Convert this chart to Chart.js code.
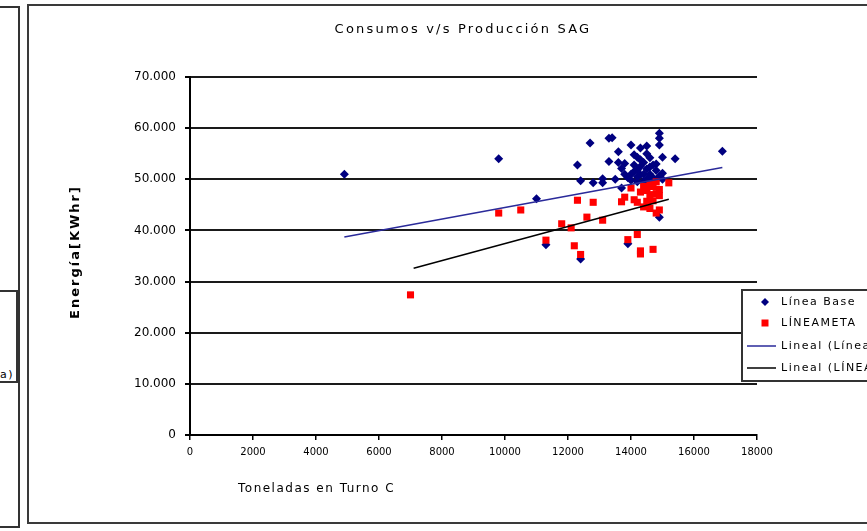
<!DOCTYPE html>
<html>
<head>
<meta charset="utf-8">
<script src="https://cdn.jsdelivr.net/npm/chart.js@4.4.1/dist/chart.umd.min.js"></script>
<style>
  body { margin: 0; width: 867px; height: 531px; overflow: hidden; position: relative; background: #fff; font-family: "DejaVu Sans", sans-serif; }
  #leftPanel { position: absolute; left: -20px; top: 6px; width: 36px; height: 518px; border: 2px solid #333; }
  #leftLegend { position: absolute; left: -60px; top: 290px; width: 76px; height: 89px; border-top: 2px solid #333; border-bottom: 2px solid #333; border-right: 2px solid #333; background: #fff; }
  #leftLegend span { position: absolute; right: 2px; top: 77px; font-size: 11px; letter-spacing: 1.5px; white-space: nowrap; line-height: 11px; }
  #frame { position: absolute; left: 27px; top: 4px; width: 900px; height: 516px; border: 2px solid #3a3a3a; }
  #chart { position: absolute; left: 0; top: 0; }
</style>
</head>
<body>
<div id="leftPanel"></div>
<div id="leftLegend"><span>(Meta)</span></div>
<div id="frame"></div>
<canvas id="chart" width="867" height="531"></canvas>
<script>
// ----- DATA -----
const chartTitle = "Consumos v/s Producción SAG";
const xTitle = "Toneladas en Turno C";
const yTitle = "Energía[KWhr]";

// Línea Base: toneladas / energía
const baseTon = [4900, 9800, 11000, 12300, 12400, 12700, 12800, 13100, 13100, 13300, 13400, 13300,
  13600, 13600, 13800, 13700, 13700, 13900, 14000, 14100, 14300, 14500, 14600, 14900, 14900, 14900,
  15000, 15400, 16900, 14100, 14200, 14300, 14400, 14400, 14500, 14500, 14600, 14700, 14700, 14800,
  14800, 14900, 14200, 14000, 14600, 14300, 14800, 15000, 15000, 14100, 13800, 14400, 14200, 14500,
  13500, 14000, 11300, 12400, 13900, 14900, 14300, 14600, 14700, 14200];
const baseEnergy = [51000, 54000, 46200, 52800, 49700, 57100, 49300, 50100, 49300, 58000, 58100, 53500,
  55400, 53300, 53100, 52100, 48300, 50300, 56700, 54800, 56100, 56500, 54200, 59000, 58000, 56700,
  54300, 54000, 55500, 51500, 50500, 52500, 51000, 53300, 50000, 52000, 51000, 52800, 50300, 51700,
  49800, 50600, 49500, 49800, 49300, 53800, 53000, 51200, 50000, 52800, 51000, 49600, 54300, 55000,
  50000, 51000, 37200, 34400, 37400, 42600, 50900, 52400, 49400, 51800];

// LÍNEAMETA
const metaTon = [7000, 9800, 10500, 11300, 11800, 12100, 12200, 12300, 12400, 12600, 12800, 13100,
  13700, 13800, 13900, 14000, 14200, 14300, 14300, 14200, 14400, 14500, 14600, 14700, 14700, 14800,
  14900, 14500, 14600, 14800, 14900, 15200, 14400, 14100, 14700, 14300, 14600, 14800, 14500, 14900];
const metaEnergy = [27400, 43400, 44000, 38100, 41300, 40500, 37000, 45900, 35300, 42600, 45500, 42000,
  45600, 46500, 38200, 48300, 39200, 35400, 47500, 45500, 48600, 48400, 47000, 36300, 48600, 49500,
  48000, 45700, 44300, 43400, 44000, 49300, 44600, 46000, 45800, 36000, 49000, 47200, 47800, 46800];

// Linear trend lines (end points as drawn)
const trendBaseTon = [4900, 16900];
const trendBaseEnergy = [38700, 52300];
const trendMetaTon = [7100, 15200];
const trendMetaEnergy = [32600, 46100];

// axis ranges
const xMax = 18000, xStep = 2000;
const yMax = 70000, yStep = 10000;

// ----- HELPERS -----
function toPoints(xs, ys) {
  return xs.map((x, i) => ({ x: x, y: ys[i] }));
}

function thousands(v) {
  return String(v).replace(/\B(?=(\d{3})+(?!\d))/g, ".");
}

// Title, axis titles and the clipped legend box, drawn on the canvas
const decorPlugin = {
  id: "decor",
  afterDraw(chart) {
    const ctx = chart.ctx;
    ctx.save();
    ctx.fillStyle = "#000";

    // chart title
    ctx.font = '13px "DejaVu Sans"';
    ctx.letterSpacing = "2.2px";
    ctx.textAlign = "center";
    ctx.textBaseline = "middle";
    ctx.fillText(chartTitle, 463, 30);

    // x axis title
    ctx.font = '12px "DejaVu Sans"';
    ctx.letterSpacing = "1.5px";
    ctx.textAlign = "left";
    ctx.fillText(xTitle, 238, 489);

    // y axis title
    ctx.save();
    ctx.translate(76, 252);
    ctx.rotate(-Math.PI / 2);
    ctx.font = 'bold 13px "DejaVu Sans"';
    ctx.letterSpacing = "2px";
    ctx.textAlign = "center";
    ctx.fillText(yTitle, 0, 0);
    ctx.restore();

    // legend
    const lx = 742, ly = 290, lh = 91;
    ctx.fillStyle = "#fff";
    ctx.fillRect(lx, ly, 200, lh);
    ctx.strokeStyle = "#333";
    ctx.lineWidth = 2;
    ctx.strokeRect(lx, ly, 200, lh);

    const rows = [302, 323, 346, 368];
    ctx.font = '11px "DejaVu Sans"';
    ctx.letterSpacing = "1.5px";
    ctx.textAlign = "left";
    chart.data.datasets.forEach((ds, i) => {
      const y = rows[i];
      if (ds.showLine) {
        ctx.strokeStyle = ds.borderColor;
        ctx.lineWidth = ds.borderWidth;
        ctx.beginPath();
        ctx.moveTo(747, y);
        ctx.lineTo(776, y);
        ctx.stroke();
      } else {
        ctx.fillStyle = ds.backgroundColor;
        ctx.beginPath();
        if (ds.pointStyle === "rectRot") {
          ctx.moveTo(765, y - 4);
          ctx.lineTo(769, y);
          ctx.lineTo(765, y + 4);
          ctx.lineTo(761, y);
        } else {
          ctx.rect(761.5, y - 3.5, 7, 7);
        }
        ctx.fill();
      }
      ctx.fillStyle = "#000";
      ctx.fillText(ds.label, 781, y);
    });
    ctx.restore();
  }
};

// ----- CHART -----
const ctx = document.getElementById("chart").getContext("2d");

const chart = new Chart(ctx, {
  type: "scatter",
  data: {
    datasets: [
      {
        label: "Línea Base",
        data: toPoints(baseTon, baseEnergy),
        pointStyle: "rectRot",
        pointRadius: 4.5,
        backgroundColor: "#000080",
        borderColor: "#000080",
        borderWidth: 0,
        order: 3
      },
      {
        label: "LÍNEAMETA",
        data: toPoints(metaTon, metaEnergy),
        pointStyle: "rect",
        pointRadius: 5,
        backgroundColor: "#ff0000",
        borderColor: "#ff0000",
        borderWidth: 0,
        order: 2
      },
      {
        label: "Lineal (Línea Base)",
        type: "line",
        data: toPoints(trendBaseTon, trendBaseEnergy),
        showLine: true,
        pointRadius: 0,
        borderColor: "#2a2a9a",
        borderWidth: 1.5,
        fill: false,
        order: 1
      },
      {
        label: "Lineal (LÍNEAMETA)",
        type: "line",
        data: toPoints(trendMetaTon, trendMetaEnergy),
        showLine: true,
        pointRadius: 0,
        borderColor: "#000",
        borderWidth: 1.5,
        fill: false,
        order: 0
      }
    ]
  },
  options: {
    responsive: false,
    animation: false,
    layout: { padding: { left: 130, top: 77, right: 110, bottom: 56 } },
    plugins: {
      legend: { display: false },
      title: { display: false },
      tooltip: { enabled: false }
    },
    scales: {
      x: {
        type: "linear",
        min: 0,
        max: xMax,
        afterFit: s => { s.height = 40; },
        ticks: {
          stepSize: xStep,
          autoSkip: false,
          maxRotation: 0,
          padding: 6,
          color: "#000",
          font: { family: "DejaVu Sans", size: 10 },
          callback: v => String(v)
        },
        grid: { drawOnChartArea: false, drawTicks: true, tickLength: 5, color: "#000", lineWidth: 1.5 },
        border: { display: true, color: "#000", width: 2 }
      },
      y: {
        min: 0,
        max: yMax,
        afterFit: s => { s.width = 60; },
        ticks: {
          stepSize: yStep,
          padding: 9,
          color: "#000",
          font: { family: "DejaVu Sans", size: 12 },
          callback: v => thousands(v)
        },
        grid: { color: "#1a1a1a", lineWidth: 2, drawTicks: true, tickLength: 5, tickColor: "#000" },
        border: { display: true, color: "#000", width: 2 }
      }
    }
  },
  plugins: [decorPlugin]
});
</script>
</body>
</html>
